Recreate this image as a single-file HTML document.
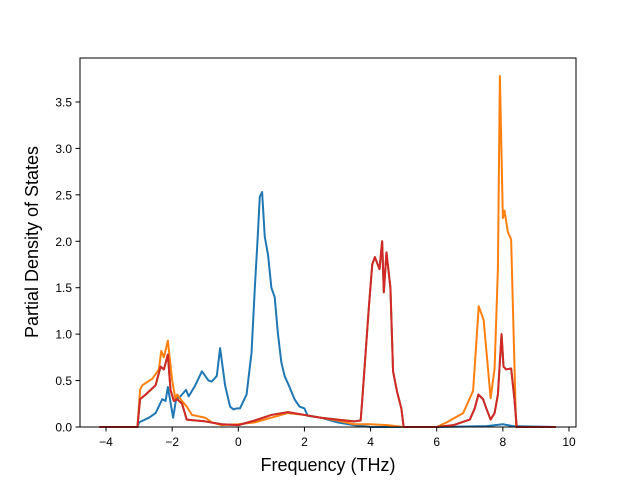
<!DOCTYPE html>
<html><head><meta charset="utf-8"><style>
body{margin:0;background:#fff;}
svg text{font-family:"Liberation Sans","DejaVu Sans",sans-serif;fill:#000;}
</style></head><body>
<svg id="chart" width="640" height="480" viewBox="0 0 640 480" xmlns="http://www.w3.org/2000/svg">
<rect width="640" height="480" fill="#fff"/>
<g id="series"></g>
<g id="axes"></g>
<rect x="80" y="58" width="496" height="369" fill="none" stroke="#000" stroke-width="1"/>
<text x="328" y="471" font-size="18" text-anchor="middle">Frequency (THz)</text>
<text transform="translate(38,242) rotate(-90)" font-size="18" text-anchor="middle">Partial Density of States</text>
</svg>
<script>
const xTicks=[-4,-2,0,2,4,6,8,10];
const yTicks=[0,0.5,1.0,1.5,2.0,2.5,3.0,3.5];
const blueX=[-4.2,-3.05,-3.0,-2.7,-2.5,-2.3,-2.2,-2.13,-1.97,-1.88,-1.75,-1.58,-1.5,-1.3,-1.1,-1.0,-0.9,-0.8,-0.65,-0.55,-0.4,-0.25,-0.15,-0.05,0.05,0.25,0.4,0.5,0.58,0.65,0.72,0.8,0.9,1.0,1.1,1.2,1.3,1.4,1.55,1.7,1.85,2.0,2.1,2.5,3.0,3.5,4.0,6.0,7.5,8.0,8.3,9.6];
const blueY=[0,0,0.05,0.1,0.15,0.3,0.28,0.43,0.1,0.3,0.33,0.4,0.33,0.45,0.6,0.55,0.5,0.49,0.55,0.85,0.45,0.22,0.19,0.2,0.2,0.35,0.8,1.5,2.0,2.48,2.53,2.05,1.85,1.5,1.4,1.0,0.7,0.55,0.43,0.3,0.22,0.2,0.12,0.1,0.05,0.02,0.0,0,0.01,0.03,0.01,0];
const orangeX=[-4.2,-3.05,-2.97,-2.9,-2.6,-2.4,-2.33,-2.25,-2.13,-2.0,-1.9,-1.85,-1.7,-1.56,-1.4,-1.0,-0.8,-0.5,0,0.5,1.0,1.5,2.0,2.5,3.0,3.5,4.0,4.5,5.0,6.0,6.3,6.8,7.1,7.27,7.42,7.63,7.75,7.85,7.91,8.0,8.05,8.15,8.25,8.4,9.6];
const orangeY=[0,0,0.4,0.45,0.52,0.62,0.82,0.75,0.93,0.5,0.3,0.35,0.28,0.22,0.13,0.1,0.05,0.02,0.03,0.05,0.1,0.15,0.13,0.1,0.07,0.03,0.03,0.02,0,0,0.05,0.15,0.39,1.3,1.15,0.31,0.63,1.7,3.78,2.25,2.33,2.1,2.02,0,0];
const redX=[-4.2,-3.05,-2.97,-2.8,-2.5,-2.35,-2.25,-2.13,-2.05,-1.95,-1.85,-1.7,-1.56,-1.0,-0.5,0,0.5,1.0,1.5,2.0,2.5,3.0,3.5,3.7,3.75,3.85,3.95,4.05,4.13,4.27,4.35,4.4,4.48,4.6,4.68,4.8,4.93,5.0,6.0,6.5,7.0,7.15,7.26,7.4,7.5,7.63,7.75,7.85,7.96,8.02,8.1,8.25,8.35,8.42,9.6];
const redY=[0,0,0.3,0.35,0.45,0.65,0.62,0.78,0.4,0.28,0.3,0.25,0.08,0.06,0.03,0.02,0.07,0.13,0.16,0.13,0.1,0.08,0.06,0.07,0.3,0.8,1.3,1.75,1.83,1.7,2.0,1.45,1.88,1.5,0.6,0.38,0.2,0,0,0.02,0.08,0.2,0.35,0.3,0.2,0.08,0.15,0.35,1.0,0.65,0.62,0.63,0.3,0,0];
const NS="http://www.w3.org/2000/svg";
function xs(v){return 238.3+v*33.07;}
function ys(v){return 427-v*92.86;}
const axes=document.getElementById('axes');
xTicks.forEach(t=>{
  const l=document.createElementNS(NS,'line');
  
  
  l.setAttribute('x1',xs(t));l.setAttribute('x2',xs(t));l.setAttribute('y1',427);l.setAttribute('y2',431.5);l.setAttribute('stroke','#000');
  axes.appendChild(l);
  const tx=document.createElementNS(NS,'text');
  
  
  tx.setAttribute('x',xs(t));tx.setAttribute('y',446);tx.setAttribute('font-size','12');tx.setAttribute('text-anchor','middle');
  tx.textContent=(t<0?'\u2212'+(-t):t);
  axes.appendChild(tx);
});
yTicks.forEach(t=>{
  const l=document.createElementNS(NS,'line');
  
  
  l.setAttribute('x1',75.5);l.setAttribute('x2',80);l.setAttribute('y1',ys(t));l.setAttribute('y2',ys(t));l.setAttribute('stroke','#000');
  axes.appendChild(l);
  const tx=document.createElementNS(NS,'text');
  
  
  tx.setAttribute('x',72);tx.setAttribute('y',ys(t)+4.5);tx.setAttribute('font-size','12');tx.setAttribute('text-anchor','end');
  tx.textContent=t.toFixed(1);
  axes.appendChild(tx);
});
const sg=document.getElementById('series');
function draw(X,Y,color,name){
  const p=document.createElementNS(NS,'polyline');
  
  
  p.setAttribute('points',X.map((x,i)=>xs(x)+','+ys(Y[i])).join(' '));
  p.setAttribute('fill','none');p.setAttribute('stroke',color);p.setAttribute('stroke-width','2');p.setAttribute('stroke-linejoin','round');
  sg.appendChild(p);
}
draw(blueX,blueY,'#1f77b4','series-blue-line');
draw(orangeX,orangeY,'#ff7f0e','series-orange-line');
draw(redX,redY,'#2ca02c','series-green-line');
draw(redX,redY,'#d62728','series-red-line');
</script>
</body></html>
